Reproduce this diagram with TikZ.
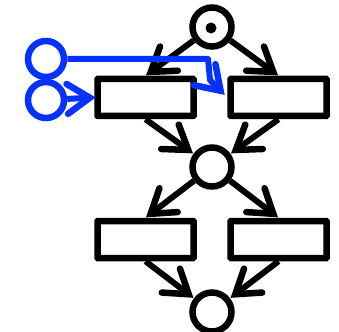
\documentclass[tikz,border=0pt]{standalone}
\usetikzlibrary{arrows.meta}
\definecolor{netblue}{RGB}{5,50,255}
\pgfdeclarearrow{
  name=NetBarb,
  setup code={
    \pgfarrowssettipend{0pt}
    \pgfarrowssetlineend{-10pt}
    \pgfarrowssetvisualbackend{-32pt}
    \pgfarrowssetbackend{-33pt}
    \pgfarrowshullpoint{0pt}{0pt}
    \pgfarrowshullpoint{-33pt}{17pt}
    \pgfarrowshullpoint{-33pt}{-17pt}
  },
  drawing code={
    \pgfsetdash{}{0pt}
    \pgfsetroundcap
    \pgfsetmiterjoin
    \pgfsetlinewidth{6.5pt}
    \pgfpathmoveto{\pgfqpoint{-29pt}{15pt}}
    \pgfpathlineto{\pgfqpoint{-6.5pt}{0pt}}
    \pgfpathlineto{\pgfqpoint{-29pt}{-15pt}}
    \pgfusepathqstroke
  }
}
\tikzset{
  place/.style={circle,draw,line width=6.5pt,fill=white,minimum size=39pt,inner sep=0pt},
  bluesite/.style={place,draw=netblue,line width=6.5pt,minimum size=36pt},
  trans/.style={rectangle,draw,line width=6.5pt,fill=white,minimum width=96pt,minimum height=37pt,inner sep=0pt,rounded corners=0.5pt},
  arc/.style={line width=6pt,-{NetBarb}},
  bluearc/.style={line width=6pt,netblue,line join=round,-{NetBarb}}
}
\begin{document}
\begin{tikzpicture}[x=1pt,y=-1pt]
\useasboundingbox (0,0) rectangle (339,331);
\fill[white] (0,0) rectangle (339,331);
\node[place] (p1) at (212,27) {};
\node[place] (p2) at (212,167) {};
\node[place] (p3) at (212,312) {};
\node[bluesite] (b1) at (46,59) {};
\node[bluesite] (b2) at (46,100) {};
\node[trans] (t1) at (145.5,97.5) {};
\node[trans] (t2) at (278.5,97.5) {};
\node[trans] (t3) at (145.5,239.5) {};
\node[trans] (t4) at (278.5,239.5) {};
\fill (211,28) circle (5.5pt);
\draw[arc] (p1) -- (t1.north);
\draw[arc] (p1) -- (t2.north);
\draw[arc] (t1.south) -- (p2);
\draw[arc] (t2.south) -- (p2);
\draw[arc] (p2) -- (t3.north);
\draw[arc] (p2) -- (t4.north);
\draw[arc] (t3.south) -- (p3);
\draw[arc] (t4.south) -- (p3);
\coordinate (k1) at (208,59);
\coordinate (k2) at (210,80);
\draw[bluearc,shorten >=-2pt] (b2) -- (t1.west);
\draw[bluearc,shorten >=3pt] (b1) -- (k1) -- (k2) -- (t2.west);
\end{tikzpicture}
\end{document}
